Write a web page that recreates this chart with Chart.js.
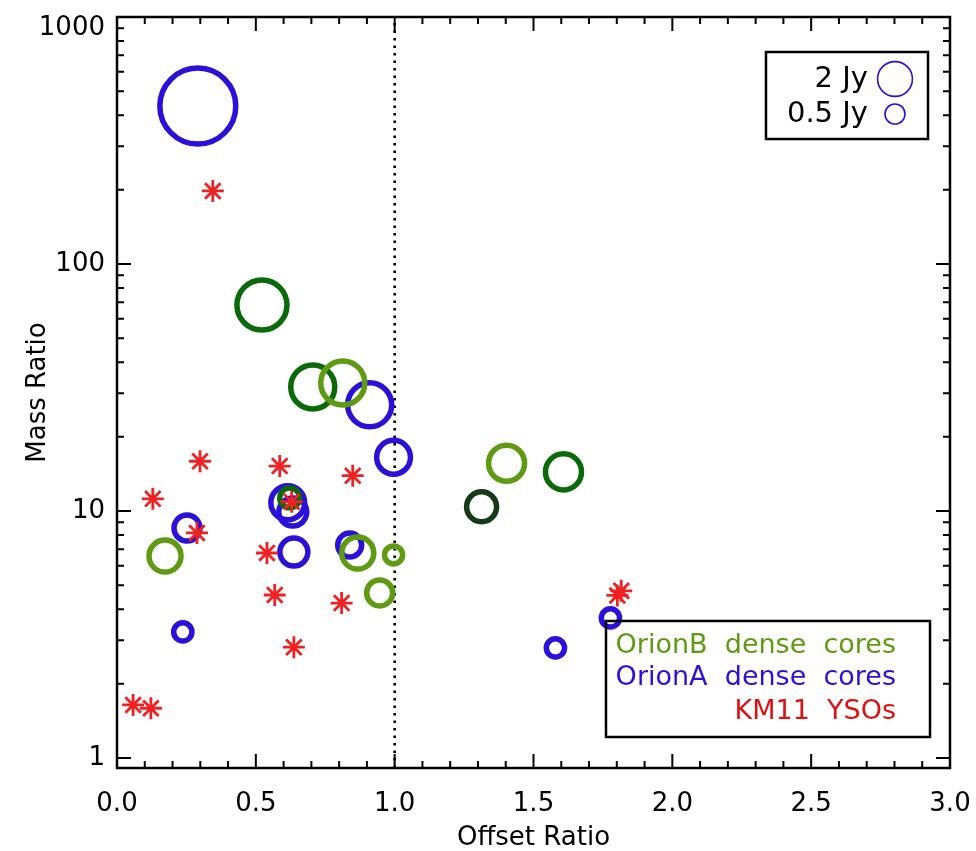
<!DOCTYPE html>
<html>
<head>
<meta charset="utf-8">
<script src="https://cdn.jsdelivr.net/npm/chart.js@4/dist/chart.umd.min.js"></script>
<style>
  html, body { margin: 0; padding: 0; background: #fff; overflow: hidden; }
  canvas { display: block; }
</style>
</head>
<body>
<canvas id="mass-offset" width="976" height="851"></canvas>
<script>
// Orion A dense cores: offset ratio, mass ratio, 850um flux (Jy)
var offsetA = [0.291, 0.910, 0.996, 0.615, 0.633, 0.252, 0.637, 0.838, 0.237, 1.579, 1.777];
var massA   = [436, 26.9, 16.5, 10.8, 9.9, 8.53, 6.82, 7.28, 3.24, 2.79, 3.69];
var fluxA   = [14.5, 3.8, 2.0, 2.0, 1.26, 1.06, 1.26, 0.87, 0.45, 0.45, 0.45];

// Orion B dense cores (three sub-groups, drawn in different greens)
var offsetB = [0.813, 1.403, 0.173, 0.867, 0.996, 0.946];
var massB   = [33.0, 15.6, 6.57, 6.76, 6.64, 4.66];
var fluxB   = [3.8, 2.33, 1.75, 1.75, 0.44, 1.06];

var offsetB2 = [0.522, 0.705, 1.608, 0.622];
var massB2   = [68.2, 31.8, 14.4, 11.3];
var fluxB2   = [5.2, 3.8, 2.33, 0.56];

var offsetB3 = [1.313];
var massB3   = [10.4];
var fluxB3   = [1.49];

// KM11 YSOs
var offsetYSO = [0.345, 0.299, 0.129, 0.586, 0.849, 0.629, 0.288, 0.540, 0.568, 0.809, 0.637, 0.058, 0.122, 1.802, 1.816];
var massYSO   = [197.6, 15.9, 11.2, 15.2, 13.9, 10.9, 8.15, 6.76, 4.57, 4.24, 2.81, 1.64, 1.59, 4.55, 4.75];

// axes
var xMajor = [0, 0.5, 1.0, 1.5, 2.0, 2.5, 3.0];
var xTickLabels = ['0.0', '0.5', '1.0', '1.5', '2.0', '2.5', '3.0'];
var yMajor = [1, 10, 100, 1000];
var yTickLabels = ['1', '10', '100', '1000'];

// flux scale key
var keyFlux = [2, 0.5];
var keyLabels = ['2 Jy', '0.5 Jy'];

var legendLabels = ['OrionB  dense  cores', 'OrionA  dense  cores', 'KM11  YSOs'];

var FONT = '"DejaVu Sans", sans-serif';
var BLUE = '#2a10d8';
var OLIVE = '#5e9a12';
var DKGREEN = '#0a6a0a';
var BLACKGREEN = '#163a16';
var RED = '#ee2222';

// plot box inside the 976x851 canvas
var BOX = { left: 117, top: 17, right: 950, bottom: 768 };

function sizeFor(flux) {
  return 13.2 * Math.pow(flux, 0.4);
}

function points(xs, ys) {
  return xs.map(function (x, i) { return { x: x, y: ys[i] }; });
}

function coreSet(label, xs, ys, flux, color, order) {
  return {
    label: label,
    data: points(xs, ys),
    pointStyle: 'circle',
    pointRadius: flux.map(function (f) { return sizeFor(f) - 0.5; }),
    pointBorderWidth: 5.5,
    pointBorderColor: color,
    pointBackgroundColor: 'rgba(0,0,0,0)',
    showLine: false,
    order: order
  };
}

// frame, inward ticks, dotted line at offset 1, tick labels and both keys
var idlAxes = {
  id: 'idlAxes',
  beforeDatasetsDraw: function (chart) {
    var ctx = chart.ctx, a = chart.chartArea, xs = chart.scales.x;
    var px = xs.getPixelForValue(1.0);
    ctx.save();
    ctx.strokeStyle = '#000';
    ctx.lineWidth = 2.6;
    ctx.setLineDash([2.5, 5]);
    ctx.beginPath();
    ctx.moveTo(px, a.bottom);
    ctx.lineTo(px, a.top);
    ctx.stroke();
    ctx.restore();
  },
  afterDatasetsDraw: function (chart) {
    var ctx = chart.ctx, a = chart.chartArea;
    var xs = chart.scales.x, ys = chart.scales.y;
    ctx.save();
    ctx.strokeStyle = '#000';
    ctx.lineWidth = 2.5;
    ctx.strokeRect(a.left, a.top, a.right - a.left, a.bottom - a.top);

    ctx.lineWidth = 2;
    ctx.beginPath();
    // x ticks every 0.1, long at 0.5
    for (var i = 1; i < 30; i++) {
      var v = i / 10;
      var p = xs.getPixelForValue(v);
      var len = (i % 5 === 0) ? 14 : 7;
      ctx.moveTo(p, a.bottom); ctx.lineTo(p, a.bottom - len);
      ctx.moveTo(p, a.top); ctx.lineTo(p, a.top + len);
    }
    // y ticks, decades long, 2..9 short
    for (var d = 0; d <= 3; d++) {
      for (var m = 1; m <= 9; m++) {
        var val = m * Math.pow(10, d);
        if (val > 1000 || val < ys.min) continue;
        var q = ys.getPixelForValue(val);
        if (q <= a.top + 1) continue;
        var l = (m === 1) ? 14 : 7;
        ctx.moveTo(a.left, q); ctx.lineTo(a.left + l, q);
        ctx.moveTo(a.right, q); ctx.lineTo(a.right - l, q);
      }
    }
    ctx.stroke();

    // tick labels
    ctx.fillStyle = '#000';
    ctx.font = '26px ' + FONT;
    ctx.textAlign = 'center';
    ctx.textBaseline = 'middle';
    xMajor.forEach(function (v, k) {
      ctx.fillText(xTickLabels[k], xs.getPixelForValue(v), a.bottom + 36);
    });
    ctx.textAlign = 'right';
    yMajor.forEach(function (v, k) {
      var q = ys.getPixelForValue(v);
      if (q < a.top + 10) q = a.top + 11;
      ctx.fillText(yTickLabels[k], a.left - 12, q);
    });

    // axis titles
    ctx.font = '26px ' + FONT;
    ctx.textAlign = 'center';
    ctx.fillText('Offset Ratio', (a.left + a.right) / 2, a.bottom + 70);
    ctx.save();
    ctx.translate(38, (a.top + a.bottom) / 2);
    ctx.rotate(-Math.PI / 2);
    ctx.fillText('Mass Ratio', 0, 0);
    ctx.restore();

    // flux key, top right
    var kx0 = a.right - 184, ky0 = a.top + 35;
    ctx.lineWidth = 2.5;
    ctx.strokeStyle = '#000';
    ctx.strokeRect(kx0, ky0, 162, 87);
    ctx.font = '29px ' + FONT;
    ctx.textAlign = 'right';
    [27, 62].forEach(function (dy, k) {
      ctx.fillStyle = '#000';
      ctx.fillText(keyLabels[k], kx0 + 102, ky0 + dy);
      ctx.strokeStyle = BLUE;
      ctx.lineWidth = 1.6;
      ctx.beginPath();
      ctx.arc(kx0 + 129, ky0 + dy, sizeFor(keyFlux[k]), 0, Math.PI * 2);
      ctx.stroke();
    });

    // sample key, bottom right
    var lx0 = a.left + 489, ly0 = a.top + 604;
    ctx.strokeStyle = '#000';
    ctx.lineWidth = 2.5;
    ctx.strokeRect(lx0, ly0, 324, 116);
    ctx.font = '27px ' + FONT;
    var colors = [OLIVE, BLUE, '#dd1111'];
    [25, 57, 91].forEach(function (dy, k) {
      ctx.fillStyle = colors[k];
      ctx.fillText(legendLabels[k], lx0 + 290, ly0 + dy);
    });
    ctx.restore();
  }
};

var massChart = new Chart(document.getElementById('mass-offset'), {
  type: 'scatter',
  data: {
    datasets: [
      {
        label: 'KM11 YSOs',
        data: points(offsetYSO, massYSO),
        pointStyle: 'star',
        pointRadius: 11,
        pointBorderWidth: 2.8,
        pointBorderColor: RED,
        pointBackgroundColor: RED,
        order: 0
      },
      coreSet('OrionB dense cores', offsetB, massB, fluxB, OLIVE, 1),
      coreSet('OrionB dense cores (2)', offsetB2, massB2, fluxB2, DKGREEN, 1),
      coreSet('OrionB dense cores (3)', offsetB3, massB3, fluxB3, BLACKGREEN, 1),
      coreSet('OrionA dense cores', offsetA, massA, fluxA, BLUE, 2)
    ]
  },
  options: {
    responsive: false,
    animation: false,
    layout: {
      autoPadding: false,
      padding: { left: 0, top: BOX.top, right: 976 - BOX.right, bottom: 0 }
    },
    plugins: {
      legend: { display: false },
      tooltip: { enabled: false }
    },
    scales: {
      x: {
        type: 'linear',
        min: 0,
        max: 3,
        grid: { display: false },
        border: { display: false },
        ticks: { display: false },
        afterFit: function (scale) { scale.height = 851 - BOX.bottom; }
      },
      y: {
        type: 'logarithmic',
        min: 0.911,
        max: 1000,
        grid: { display: false },
        border: { display: false },
        ticks: { display: false },
        afterFit: function (scale) { scale.width = BOX.left; }
      }
    }
  },
  plugins: [idlAxes]
});
</script>
</body>
</html>
